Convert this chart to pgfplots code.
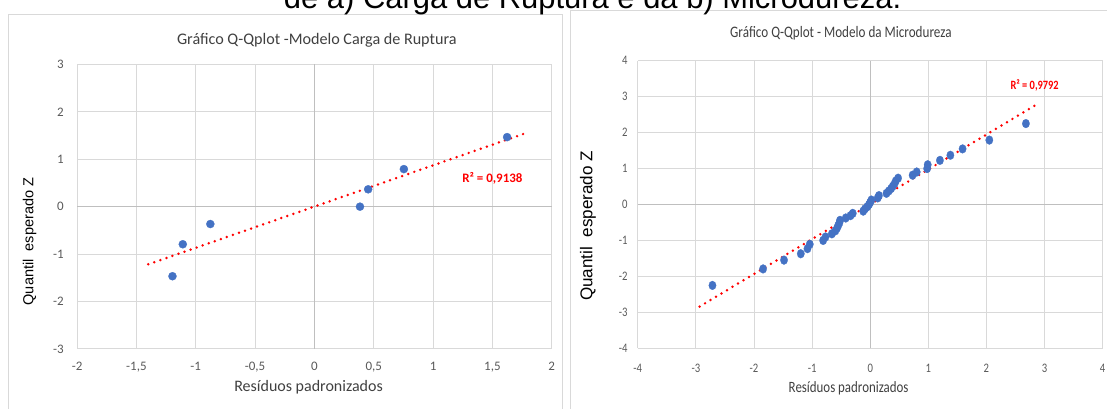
\documentclass[border=0pt]{standalone}
\usepackage{pgfplots}
\pgfplotsset{compat=1.18}
\usepackage{pgfplotstable}
\usepackage{fontspec}
\setmainfont{Carlito}
\newfontfamily\arial{Liberation Sans}
\newfontfamily\cond[FakeStretch=0.82]{Carlito}
\definecolor{ptblue}{HTML}{4472C4}
\definecolor{gridc}{HTML}{D9D9D9}
\definecolor{zeroc}{HTML}{BFBFBF}
\definecolor{tickc}{HTML}{595959}
\definecolor{titc}{HTML}{404040}

\pgfplotstableread{
x y
-1.196 -1.466
-1.109 -0.792
-0.877 -0.366
0.384 0.000
0.453 0.366
0.754 0.792
1.624 1.466
}\cargadata

\pgfplotstableread{
x y
-2.715 -2.251
-1.844 -1.792
-1.483 -1.547
-1.195 -1.370
-1.080 -1.228
-1.040 -1.107
-0.810 -1.000
-0.770 -0.904
-0.660 -0.816
-0.600 -0.733
-0.570 -0.655
-0.550 -0.581
-0.530 -0.511
-0.520 -0.442
-0.420 -0.375
-0.340 -0.311
-0.300 -0.247
-0.120 -0.184
-0.090 -0.123
-0.050 -0.061
-0.020 0.000
0.000 0.061
0.020 0.123
0.130 0.184
0.150 0.247
0.280 0.311
0.320 0.375
0.360 0.442
0.390 0.511
0.420 0.581
0.440 0.655
0.480 0.733
0.730 0.816
0.800 0.904
0.980 1.000
0.990 1.107
1.200 1.228
1.380 1.370
1.590 1.547
2.050 1.792
2.680 2.251
}\microdata

\pgfplotsset{
  qq/.style={
    anchor=south west, scale only axis, clip=false,
    grid=major, grid style={gridc, line width=0.75pt},
    axis line style={draw=none}, tick style={draw=none},
    /pgf/number format/use comma,
    /pgf/number format/assume math mode=true,
  }
}

\begin{document}
\begin{tikzpicture}
\path[use as bounding box] (0pt,0pt) rectangle (830.25pt,-306.75pt);
\begin{scope}[x=0.75pt,y=-0.75pt]
\clip (0,0) rectangle (1107,409);
\draw[gridc, line width=0.9pt] (8.6,430) -- (8.6,14.5) -- (562.8,14.5) -- (562.8,430);
\draw[gridc, line width=0.9pt] (570.5,430) -- (570.5,10.5) -- (1120,10.5);
\node[anchor=base west, inner sep=0pt] at (283.7,8.8) {\arial\fontsize{23.2}{28}\selectfont de a) Carga de Ruptura e da b) Microdureza.};
\end{scope}

% ---------------- left chart ----------------
\begin{axis}[qq,
  at={(57.8pt,-261.75pt)}, width=356pt, height=213.5pt,
  xmin=-2, xmax=2, ymin=-3, ymax=3,
  xtick={-2,-1.5,-1,-0.5,0,0.5,1,1.5,2}, ytick={-3,-2,-1,0,1,2,3},
  ticklabel style={font=\fontsize{9.75}{10}\selectfont, text=tickc},
  xticklabel style={yshift=-6.2pt},
  yticklabel style={xshift=-6.5pt},
]
\draw[zeroc, line width=0.9pt] (axis cs:0,-3) -- (axis cs:0,3);
\draw[zeroc, line width=0.9pt] (axis cs:-2,0) -- (axis cs:2,0);
\addplot[only marks, color=ptblue, mark=*, mark size=3.05pt, mark options={draw=ptblue, fill=ptblue, line width=0.2pt}] table[x=x,y=y] {\cargadata};
\addplot[red, line width=2.05pt, line cap=round, dash pattern=on 0pt off 4.8pt] coordinates {(-1.40,-1.215) (1.775,1.545)};
\node[text=red, font=\bfseries\fontsize{9.7}{11}\selectfont] at (axis cs:1.50,0.60) {R² = 0,9138};
\end{axis}

% ---------------- right chart ----------------
\begin{axis}[qq,
  at={(478.35pt,-261.23pt)}, width=348.6pt, height=215.7pt,
  xmin=-4, xmax=4, ymin=-4, ymax=4,
  xtick={-4,-3,-2,-1,0,1,2,3,4}, ytick={-4,-3,-2,-1,0,1,2,3,4},
  ticklabel style={font=\cond\fontsize{9.75}{10}\selectfont, text=tickc},
  xticklabel style={yshift=-8.3pt},
  yticklabel style={xshift=-4.2pt},
]
\draw[zeroc, line width=0.9pt] (axis cs:0,-4) -- (axis cs:0,4);
\draw[zeroc, line width=0.9pt] (axis cs:-4,0) -- (axis cs:4,0);
\addplot[only marks, color=ptblue, mark=*, mark size=3.3pt, mark options={draw=ptblue, fill=ptblue, line width=0.2pt, xscale=0.84}] table[x=x,y=y] {\microdata};
\addplot[red, line width=2.05pt, line cap=round, dash pattern=on 0pt off 4.8pt] coordinates {(-2.937,-2.840) (2.829,2.749)};
\node[text=red, font=\cond\bfseries\fontsize{9.5}{11}\selectfont] at (axis cs:2.83,3.32) {R² = 0,9792};
\end{axis}

% titles and labels
\begin{scope}[x=0.75pt,y=-0.75pt]
\node[text=titc, font=\fontsize{12.1}{14}\selectfont] at (316.8,40.7) {Gráfico Q-Qplot -Modelo Carga de Ruptura};
\node[text=titc, font=\cond\fontsize{12}{14}\selectfont] at (840.9,33) {Gráfico Q-Qplot - Modelo da Microdureza};
\node[rotate=90, font=\arial\fontsize{10.9}{12}\selectfont] at (29.6,241.5) {Quantil\ \ esperado Z};
\node[rotate=90, font=\arial\fontsize{12.8}{14}\selectfont] at (587.9,226) {Quantil\ \ esperado Z};
\node[text=titc, font=\fontsize{12}{14}\selectfont] at (308.6,387) {Resíduos padronizados};
\node[text=titc, font=\cond\fontsize{11.8}{14}\selectfont] at (848.6,388) {Resíduos padronizados};
\end{scope}
\end{tikzpicture}
\end{document}
